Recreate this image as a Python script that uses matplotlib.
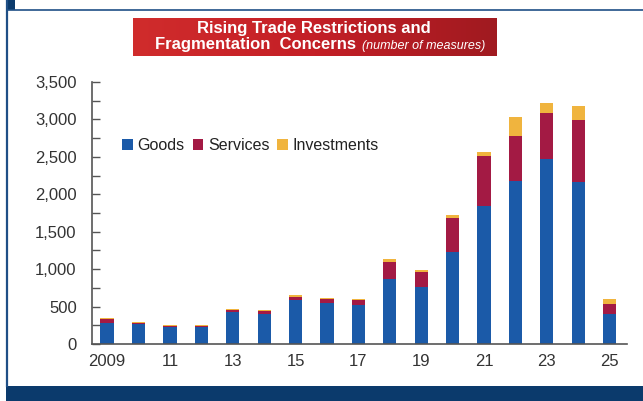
import numpy as np
import matplotlib.pyplot as plt
from matplotlib.patches import Rectangle
from matplotlib.lines import Line2D
from matplotlib.colors import LinearSegmentedColormap

# number of trade measures per year, stacked by type
years = list(range(2009, 2026))
goods = [280, 265, 225, 225, 430, 405, 585, 545, 520, 870, 760, 1225, 1850, 2180, 2475, 2170, 400]
services = [55, 20, 10, 10, 20, 30, 45, 55, 70, 220, 200, 460, 660, 600, 610, 825, 135]
investments = [10, 10, 15, 15, 15, 15, 30, 10, 10, 40, 25, 35, 60, 255, 135, 185, 65]

tick_years = [2009, 2011, 2013, 2015, 2017, 2019, 2021, 2023, 2025]
tick_labels = ["2009", "11", "13", "15", "17", "19", "21", "23", "25"]

C_GOODS = "#1b5aa8"
C_SERV = "#a31a44"
C_INV = "#f0b43e"
NAVY = "#0b3a6c"

plt.rcParams["font.family"] = ["Liberation Sans", "DejaVu Sans"]

W, H = 643, 401
fig = plt.figure(figsize=(W / 100, H / 100), dpi=100)
fig.patch.set_facecolor("white")


def fx(px):
    return px / W


def fy(py):
    return 1 - py / H


# page frame: left rule, top rule, corner block, footer band
fig.add_artist(Line2D([fx(7), fx(7)], [fy(0), fy(386)], color="#1f4f86", lw=1.6))
fig.add_artist(Line2D([fx(7), 1], [fy(10), fy(10)], color="#1f4f86", lw=1.2))
fig.add_artist(Rectangle((fx(6), fy(10)), fx(9), 10 / H, color=NAVY, lw=0))
fig.add_artist(Rectangle((fx(6), 0), 1 - fx(6), 15 / H, color=NAVY, lw=0))

# red title banner with a light horizontal gradient
tax = fig.add_axes([fx(133), fy(56), fx(497 - 133), 38 / H])
grad = np.linspace(0, 1, 256).reshape(1, -1)
cmap = LinearSegmentedColormap.from_list("banner", ["#d02c2c", "#c41f26", "#a01a20"])
tax.imshow(grad, aspect="auto", cmap=cmap, extent=[0, 1, 0, 1])
tax.set_axis_off()

fig.text(fx(314), fy(28), "Rising Trade Restrictions and", color="white",
         fontsize=12, fontweight="bold", ha="center", va="center")
fig.text(fx(356), fy(45), "Fragmentation  Concerns", color="white",
         fontsize=12, fontweight="bold", ha="right", va="center")
fig.text(fx(362), fy(46), "(number of measures)", color="white",
         fontsize=9, style="italic", ha="left", va="center")

ax = fig.add_axes([fx(92), fy(344), fx(627 - 92), (344 - 82) / H])
ax.set_facecolor("white")

x = np.array(years)
width = 0.42
g = np.array(goods)
s = np.array(services)
i = np.array(investments)
ax.bar(x, g, width, color=C_GOODS, label="Goods")
ax.bar(x, s, width, bottom=g, color=C_SERV, label="Services")
ax.bar(x, i, width, bottom=g + s, color=C_INV, label="Investments")

ax.set_xlim(2008.52, 2025.55)
ax.set_ylim(0, 3500)
ax.set_yticks(range(0, 3501, 500))
ax.set_yticklabels([f"{v:,}" for v in range(0, 3501, 500)])
ax.set_yticks(range(250, 3500, 500), minor=True)
ax.set_xticks(tick_years)
ax.set_xticklabels(tick_labels)

for side in ["top", "right"]:
    ax.spines[side].set_visible(False)
for side in ["left", "bottom"]:
    ax.spines[side].set_color("#555555")
    ax.spines[side].set_linewidth(1.2)

ax.tick_params(axis="y", which="both", direction="in", length=6, width=1,
               color="#555555", labelsize=12, labelcolor="#333333", pad=11)
ax.tick_params(axis="x", length=0, labelsize=12, labelcolor="#333333", pad=7)

ax.legend(loc="upper left", bbox_to_anchor=(0.03, 0.84), ncol=3, frameon=False,
          fontsize=11.5, handlelength=0.65, handleheight=0.65, handletextpad=0.3,
          columnspacing=0.5, labelcolor="#222222")

fig.savefig("out.png", dpi=100)
